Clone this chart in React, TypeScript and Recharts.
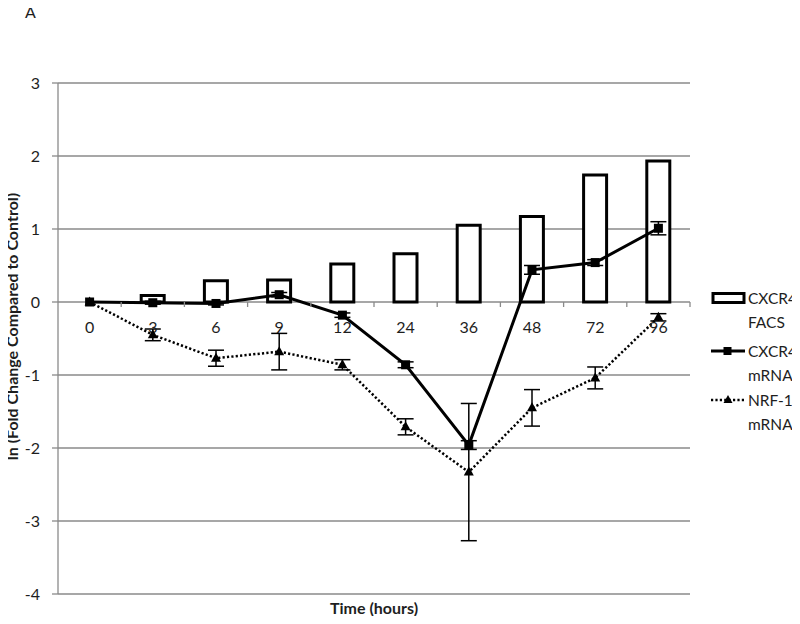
import React from 'react';
import { ComposedChart, Bar, Line, XAxis, YAxis, CartesianGrid, ErrorBar, ReferenceDot } from 'recharts';

const times = ['0', '3', '6', '9', '12', '24', '36', '48', '72', '96'];
const facs = [0, 0.09, 0.29, 0.3, 0.52, 0.66, 1.05, 1.17, 1.74, 1.93];
const cxcr4Mrna = [0, -0.01, -0.02, 0.1, -0.18, -0.86, -1.96, 0.44, 0.54, 1.01];
const cxcr4MrnaErr = [0, 0.02, 0.02, 0.03, 0.03, 0.04, 0.06, 0.06, 0.04, 0.09];
const nrf1Mrna = [0, -0.45, -0.77, -0.68, -0.86, -1.71, -2.33, -1.45, -1.04, -0.21];
const nrf1Err = [0, 0.08, 0.11, 0.25, 0.07, 0.11, 0.94, 0.25, 0.15, 0.05];
const yTicks = [-4, -3, -2, -1, 0, 1, 2, 3];

const data = times.map((t, i) => ({
  time: t,
  facs: facs[i],
  cxcr4: cxcr4Mrna[i],
  cxcr4Err: cxcr4MrnaErr[i],
  nrf1: nrf1Mrna[i],
  nrf1Err: nrf1Err[i],
}));

const W = 800;
const H = 624;
const MARGIN = { top: 83, right: 110, left: 18, bottom: 8 };
const Y_AXIS_W = 40;
const X_AXIS_H = 22;
const PLOT_W = W - MARGIN.left - MARGIN.right - Y_AXIS_W;
const HALF_BAND = PLOT_W / times.length / 2;
const FONT = 'Lato, "Liberation Sans", sans-serif';
const GRID = '#8a8a8a';
const TXT = '#1e1e1e';

const SquareDot = (p: any) => {
  const { cx, cy, index } = p;
  if (cx == null || cy == null) return <g key={`s${index}`} />;
  return <rect key={`s${index}`} x={cx - 4.5} y={cy - 4.5} width={9} height={9} fill="#000" />;
};

const TriDot = (p: any) => {
  const { cx, cy, index } = p;
  if (cx == null || cy == null) return <g key={`t${index}`} />;
  return (
    <polygon
      key={`t${index}`}
      points={`${cx},${cy - 5.5} ${cx + 5},${cy + 3.5} ${cx - 5},${cy + 3.5}`}
      fill="#000"
    />
  );
};

const YTitle = (props: any) => {
  const vb = props.viewBox || {};
  const x = vb.x - 7;
  const y = vb.y + vb.height / 2 - 12;
  return (
    <text
      x={x}
      y={y}
      transform={`rotate(-90 ${x} ${y})`}
      textAnchor="middle"
      dominantBaseline="central"
      fontFamily={FONT}
      fontWeight="bold"
      fontSize={16}
      fill={TXT}
    >
      ln (Fold Change Compared to Control)
    </text>
  );
};

const XTitle = (props: any) => {
  const vb = props.viewBox || {};
  return (
    <text
      x={vb.x + vb.width / 2}
      y={vb.y + 13}
      textAnchor="middle"
      dominantBaseline="central"
      fontFamily={FONT}
      fontWeight="bold"
      fontSize={16}
      fill={TXT}
    >
      Time (hours)
    </text>
  );
};

const makeCatTick = (label: string) => (p: any) => (
  <g>
    <line x1={p.cx + HALF_BAND} y1={p.cy} x2={p.cx + HALF_BAND} y2={p.cy + 5} stroke={GRID} strokeWidth={1.3} />
    <text x={p.cx} y={p.cy + 31} textAnchor="middle" fontFamily={FONT} fontSize={16} fill={TXT}>
      {label}
    </text>
  </g>
);

const legendItems = [
  { l1: 'CXCR4', l2: 'FACS', kind: 'bar', y: 298 },
  { l1: 'CXCR4', l2: 'mRNA', kind: 'solid', y: 351 },
  { l1: 'NRF-1', l2: 'mRNA', kind: 'dotted', y: 400 },
];

const Overlay = () => (
  <svg
    width={W}
    height={H}
    style={{ position: 'absolute', left: 0, top: 0, pointerEvents: 'none' }}
  >
    <text x={25} y={18} fontFamily={FONT} fontSize={16} fill={TXT}>
      A
    </text>
    {legendItems.map((it) => (
      <g key={it.l1 + it.l2}>
        {it.kind === 'bar' && (
          <rect x={713} y={it.y - 4.5} width={31} height={9} fill="#fff" stroke="#000" strokeWidth={3} />
        )}
        {it.kind === 'solid' && (
          <g>
            <line x1={711} y1={it.y} x2={745} y2={it.y} stroke="#000" strokeWidth={3} />
            <rect x={723.5} y={it.y - 4} width={8} height={8} fill="#000" />
          </g>
        )}
        {it.kind === 'dotted' && (
          <g>
            <line x1={711} y1={it.y} x2={745} y2={it.y} stroke="#000" strokeWidth={2.5} strokeDasharray="2.2 2.2" />
            <polygon points={`${728},${it.y - 5} ${732.5},${it.y + 3} ${723.5},${it.y + 3}`} fill="#000" />
          </g>
        )}
        <text x={748} y={it.y} dominantBaseline="central" fontFamily={FONT} fontSize={15.5} fill={TXT}>
          {it.l1}
        </text>
        <text x={748} y={it.y + 24} dominantBaseline="central" fontFamily={FONT} fontSize={15.5} fill={TXT}>
          {it.l2}
        </text>
      </g>
    ))}
  </svg>
);

export default function App() {
  return (
    <div style={{ position: 'relative', width: W, height: H, margin: -8, fontFamily: FONT }}>
      <ComposedChart width={W} height={H} data={data} margin={MARGIN}>
        <CartesianGrid vertical={false} stroke={GRID} strokeWidth={1.3} />
        <XAxis
          dataKey="time"
          type="category"
          height={X_AXIS_H}
          tick={false}
          axisLine={false}
          tickLine={false}
          label={XTitle}
        />
        <YAxis
          type="number"
          domain={[-4, 3]}
          ticks={yTicks}
          interval={0}
          width={Y_AXIS_W}
          tickSize={6}
          tickMargin={12}
          axisLine={{ stroke: GRID, strokeWidth: 1.3 }}
          tickLine={{ stroke: GRID, strokeWidth: 1.3 }}
          tick={{ fontFamily: FONT, fontSize: 16, fill: TXT }}
          label={YTitle}
        />
        <Bar dataKey="facs" fill="#fff" stroke="#000" strokeWidth={3} barSize={23} isAnimationActive={false} />
        {times.map((t) => (
          <ReferenceDot key={t} x={t} y={0} r={0} shape={makeCatTick(t)} />
        ))}
        <Line
          dataKey="nrf1"
          stroke="#000"
          strokeWidth={2.5}
          strokeDasharray="2.2 2.2"
          dot={TriDot}
          activeDot={false}
          isAnimationActive={false}
        >
          <ErrorBar dataKey="nrf1Err" width={8} stroke="#000" strokeWidth={1.5} isAnimationActive={false} />
        </Line>
        <Line
          dataKey="cxcr4"
          stroke="#000"
          strokeWidth={3}
          dot={SquareDot}
          activeDot={false}
          isAnimationActive={false}
        >
          <ErrorBar dataKey="cxcr4Err" width={8} stroke="#000" strokeWidth={1.5} isAnimationActive={false} />
        </Line>
      </ComposedChart>
      <Overlay />
    </div>
  );
}
